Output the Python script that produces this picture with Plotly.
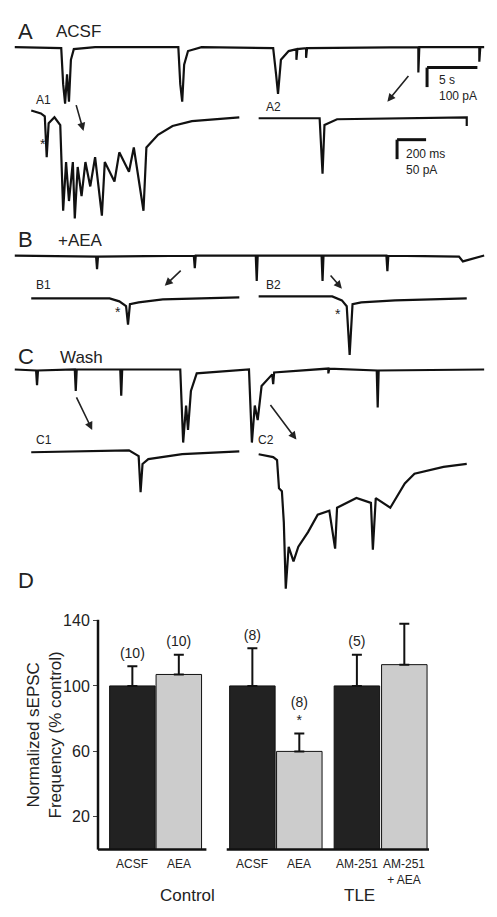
import plotly.graph_objects as go

W, H = 497, 917          # reference coordinate system
FIG_W, FIG_H = 481, 901  # leave room for the page's body margin

# bar chart data (panel D)
groups = ["ACSF", "AEA", "ACSF", "AEA", "AM-251", "AM-251<br>+ AEA"]
means = [100, 107, 100, 60, 100, 113]
err_top = [112, 119, 123, 71, 119, 138]
n_labels = ["(10)", "(10)", "(8)", "(8)<br>*", "(5)", "(5)"]
bar_colors = ["#222222", "#cccccc", "#222222", "#cccccc", "#222222", "#cccccc"]
bar_x = [128.5, 176.5, 252.5, 301, 360.5, 409.5]
yticks = [20, 60, 100, 140]

# traces as (x px, y px) points
trace_A = [(7, 32), (55, 33), (57, 70), (59, 90), (61, 60), (63, 88), (65, 45), (68, 34), (90, 32),
           (176, 32), (178, 70), (180, 88), (182, 50), (186, 36), (200, 32), (274, 33), (277, 60),
           (279, 80), (282, 45), (290, 36), (298, 34), (298, 45), (299, 34), (308, 33), (308, 43),
           (309, 33), (424, 32), (424, 58), (425, 32), (487, 32), (487, 47), (488, 32), (492, 32)]
trace_A1 = [(24, 97), (34, 100), (38, 103), (40, 145), (42, 110), (48, 104), (54, 112), (57, 200),
            (60, 150), (63, 190), (67, 150), (69, 208), (72, 155), (76, 185), (80, 150), (85, 175),
            (90, 145), (97, 205), (100, 150), (110, 170), (115, 140), (125, 160), (130, 135),
            (140, 200), (143, 135), (155, 122), (170, 113), (190, 108), (239, 104)]
trace_A2 = [(259, 105), (322, 105), (325, 162), (327, 112), (340, 106), (474, 104), (474, 113)]
trace_B = [(7, 246), (91, 247), (92, 260), (93, 247), (192, 246), (193, 259), (194, 246),
           (256, 246), (257, 272), (258, 246), (324, 246), (325, 272), (326, 246), (391, 246),
           (392, 262), (393, 246), (466, 247), (470, 252), (492, 246)]
trace_B1 = [(24, 290), (105, 290), (115, 293), (122, 298), (124, 317), (126, 296), (135, 294),
            (160, 291), (239, 289)]
trace_B2 = [(259, 288), (335, 288), (345, 292), (350, 298), (353, 348), (356, 296), (365, 294),
            (400, 292), (474, 290)]
trace_C = [(7, 363), (29, 364), (30, 379), (31, 364), (69, 363), (70, 385), (71, 363), (116, 363),
           (117, 390), (118, 363), (178, 363), (181, 438), (184, 400), (186, 425), (189, 385),
           (195, 367), (249, 363), (252, 438), (255, 400), (258, 415), (262, 380), (273, 368),
           (274, 378), (275, 366), (331, 362), (331, 367), (332, 362), (381, 364), (382, 402),
           (383, 364), (492, 363)]
trace_C1 = [(24, 448), (125, 446), (135, 452), (137, 489), (139, 460), (145, 455), (180, 450),
            (239, 447)]
trace_C2 = [(259, 450), (274, 453), (278, 456), (280, 485), (283, 488), (285, 520), (287, 588),
            (290, 545), (295, 560), (300, 545), (310, 530), (320, 512), (332, 508), (338, 547),
            (340, 505), (360, 495), (375, 500), (377, 548), (380, 495), (395, 505), (410, 480),
            (420, 470), (450, 463), (474, 460)]
arrows = [((70, 90), (78, 118)), ((415, 60), (392, 88)), ((180, 260), (162, 277)),
          ((332, 265), (345, 280)), ((70, 390), (87, 425)), ((270, 398), (298, 435))]

fig = go.Figure()

for tr in [trace_A, trace_A1, trace_A2, trace_B, trace_B1, trace_B2, trace_C, trace_C1, trace_C2]:
    fig.add_trace(go.Scatter(x=[p[0] for p in tr], y=[p[1] for p in tr], mode="lines",
                             line=dict(color="#111111", width=2.2), hoverinfo="skip",
                             xaxis="x", yaxis="y"))

fig.add_trace(go.Bar(
    x=bar_x, y=means, width=47, marker=dict(color=bar_colors, line=dict(color="#111111", width=1)),
    error_y=dict(type="data", symmetric=False, array=[t - m for t, m in zip(err_top, means)],
                 arrayminus=[0] * len(means), color="#111111", thickness=2, width=5),
    xaxis="x2", yaxis="y2", hoverinfo="skip", cliponaxis=False))

fig.add_trace(go.Scatter(
    x=bar_x, y=[t + 3 for t in err_top], mode="text", text=n_labels, textposition="top center",
    textfont=dict(size=14, color="#222222"), xaxis="x2", yaxis="y2", hoverinfo="skip",
    cliponaxis=False))

shapes = []
for (x0, y0), (x1, y1) in arrows:
    fig.add_annotation(x=x1, y=y1, ax=x0, ay=y0, xref="x", yref="y", axref="x", ayref="y",
                       showarrow=True, arrowhead=2, arrowsize=1, arrowwidth=1.6, arrowcolor="#222222", text="")

# scale bars
for x0, y0, x1, y1 in [(433, 53, 485, 53), (433, 53, 433, 73), (402, 127, 432, 127), (402, 127, 402, 147)]:
    shapes.append(dict(type="line", xref="x", yref="y", x0=x0, y0=y0, x1=x1, y1=y1,
                       line=dict(color="#111111", width=3)))
# bar chart axes
shapes.append(dict(type="line", xref="paper", yref="paper", x0=93 / W, x1=93 / W,
                   y0=1 - 856 / H, y1=1 - 620 / H, line=dict(color="#111111", width=2.5)))
for x0, x1 in [(93, 205), (226, 435)]:
    shapes.append(dict(type="line", xref="paper", yref="paper", x0=x0 / W, x1=x1 / W,
                       y0=1 - 856 / H, y1=1 - 856 / H, line=dict(color="#111111", width=2.5)))

labels = [("A", 8, 16, 22), ("ACSF", 48, 16, 17), ("A1", 27, 86, 12), ("A2", 265, 93, 12),
          ("*", 31, 131, 14), ("5 s", 443, 66, 12), ("100 pA", 443, 82, 12),
          ("200 ms", 409, 142, 12), ("50 pA", 409, 158, 12),
          ("B", 8, 229, 22), ("+AEA", 50, 231, 17), ("B1", 27, 276, 12), ("B2", 265, 276, 12),
          ("*", 108, 304, 14), ("*", 336, 306, 14),
          ("C", 8, 350, 22), ("Wash", 52, 351, 17), ("C1", 27, 435, 12), ("C2", 256, 435, 12),
          ("D", 8, 580, 22), ("Control", 155, 903, 17), ("TLE", 345, 903, 17)]
for t, x, y, s in labels:
    fig.add_annotation(x=x, y=y, xref="x", yref="y", text=t, showarrow=False, xanchor="left",
                       yanchor="middle", font=dict(size=s, color="#222222"))

for g, x in zip(groups, bar_x):
    fig.add_annotation(x=x, y=862, xref="x", yref="y", text=g, showarrow=False, yanchor="top",
                       font=dict(size=12, color="#222222"))

fig.add_annotation(x=38, y=738, xref="x", yref="y", text="Normalized sEPSC<br>Frequency (% control)",
                   showarrow=False, textangle=-90, font=dict(size=17, color="#222222"))

fig.update_layout(
    width=FIG_W, height=FIG_H, margin=dict(l=0, r=0, t=0, b=0), showlegend=False,
    paper_bgcolor="white", plot_bgcolor="rgba(0,0,0,0)",
    font=dict(family="Liberation Sans, Arial, sans-serif"),
    shapes=shapes,
    xaxis=dict(range=[0, W], domain=[0, 1], visible=False, fixedrange=True),
    yaxis=dict(range=[H, 0], domain=[0, 1], visible=False, fixedrange=True),
    xaxis2=dict(range=[0, W], domain=[0, 1], visible=False, anchor="y2"),
    yaxis2=dict(range=[0, 140], domain=[1 - 856 / H, 1 - 620.7 / H], anchor="free", position=93 / W,
                tickvals=yticks, ticks="outside", ticklen=5, showgrid=False, zeroline=False,
                showline=False, tickfont=dict(size=16, color="#222222")),
)

fig.write_html("out.html")
